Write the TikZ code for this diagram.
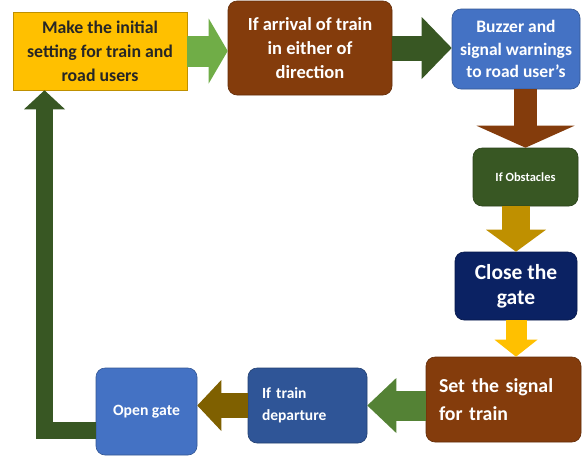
\documentclass[tikz,border=0pt]{standalone}
\usepackage{fontspec}
\setmainfont{Carlito}
\usetikzlibrary{arrows.meta}

\definecolor{gold}{HTML}{FFC000}
\definecolor{rust}{HTML}{843C0C}
\definecolor{sky}{HTML}{4472C4}
\definecolor{moss}{HTML}{385723}
\definecolor{navy}{HTML}{0B2263}
\definecolor{steel}{HTML}{2F5597}
\definecolor{leaf}{HTML}{70AD47}
\definecolor{grass}{HTML}{548235}
\definecolor{ochre}{HTML}{BF9000}
\definecolor{olive}{HTML}{7F6000}

\begin{document}
\begin{tikzpicture}
      [   x=1pt,y=-1pt,
          bnode/.style={draw=#1!75!black,line width=0.6pt,fill=#1,text=white,
                        font=\bfseries,align=center,inner sep=0pt,rounded corners=9pt},
          flow/.style n args={4}{draw=#1,line width=#2,
                        -{Triangle[width=#3,length=#4,line width=0pt]}},
      ]
          \useasboundingbox[fill=white] (0,0) rectangle (582,459);
          % boxes, clockwise from top left
          \node[bnode=gold,text=black!85,rounded corners=0pt,minimum width=174pt,minimum height=78pt,
                font=\bfseries\fontsize{17.8}{24}\selectfont] (setup) at (100,51)
                {Make the initial\\setting for train and\\road users};
          \node[bnode=rust,minimum width=164pt,minimum height=94pt,
                font=\bfseries\fontsize{18.5}{24}\selectfont] (arrive) at (310,48)
                {If arrival of train\\in either of\\direction};
          \node[bnode=sky,minimum width=128pt,minimum height=80pt,
                font=\bfseries\fontsize{17.5}{22.5}\selectfont] (buzz) at (516,49)
                {Buzzer and\\signal warnings\\to road user’s};
          \node[bnode=moss,minimum width=105pt,minimum height=58pt,
                font=\bfseries\fontsize{12.5}{15}\selectfont] (obst) at (525.5,177)
                {If Obstacles};
          \node[bnode=navy,minimum width=122pt,minimum height=68pt,
                font=\bfseries\fontsize{21.5}{25}\selectfont] (close) at (516,286)
                {Close the\\gate};
          \node[bnode=rust,minimum width=155pt,minimum height=85pt,text width=129pt,align=left,
                font=\bfseries\fontsize{19.8}{28}\selectfont] (signal) at (503.5,399.5)
                {Set the signal\\for train\\[-6pt]};
          \node[bnode=steel,minimum width=119pt,minimum height=75pt,text width=91pt,align=left,
                font=\bfseries\fontsize{15.5}{22}\selectfont] (depart) at (307.5,405.5)
                {If train\\departure\\[-8pt]};
          \node[bnode=sky,minimum width=101pt,minimum height=87pt,
                font=\bfseries\fontsize{15.7}{18}\selectfont] (open) at (146.5,411.5)
                {Open gate};

          % block arrows
          \draw[flow={leaf}{31pt}{65pt}{19pt}] (setup.east) -- (setup.east -| arrive.west);
          \draw[flow={moss}{25pt}{62pt}{30pt}] (arrive.east) -- (arrive.east -| buzz.west);
          \draw[flow={rust}{23pt}{98pt}{22pt}] (buzz.south -| obst.north) -- (obst.north);
          \draw[flow={ochre}{28pt}{60pt}{22pt}] (obst.south -| close.north) -- (close.north);
          \draw[flow={gold}{21pt}{43pt}{17pt}] (close.south) -- (close.south |- signal.north);
          \draw[flow={grass}{30pt}{55pt}{29pt}] (signal.west |- depart.east) -- (depart.east);
          \draw[flow={olive}{25pt}{51pt}{24pt}] (depart.west) -- (depart.west -| open.east);
          \coordinate (back) at (44.5,430);
          \draw[flow={moss}{17pt}{41pt}{19pt}] (open.west |- back) -- (back) -- (back |- setup.south);
    \end{tikzpicture}
\end{document}
